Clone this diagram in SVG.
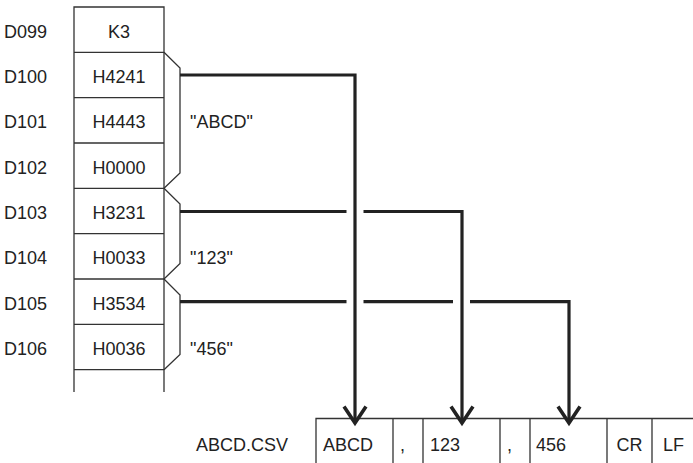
<svg xmlns="http://www.w3.org/2000/svg" width="693" height="463" viewBox="0 0 693 463">
<style>
text{font-family:"Liberation Sans",Arial,sans-serif;font-size:18px;fill:#222}
.thin{stroke:#333;stroke-width:1.3;fill:none}
.thick{stroke:#222;stroke-width:3.2;fill:none}
.mid{text-anchor:middle}
</style>
<defs>
<marker id="v" markerUnits="userSpaceOnUse" markerWidth="28" markerHeight="22" refX="13" refY="18" orient="0" viewBox="0 0 26 22">
<path d="M2 1.5 L13 18 L24 1.5" fill="none" stroke="#222" stroke-width="3.6"/>
</marker>
</defs>
<rect width="693" height="463" fill="#fff"/>
<g id="register-table">
<path class="thin" d="M74 392V7H164V392M74 52.3H164M74 97.7H164M74 143H164M74 188.3H164M74 233.7H164M74 279H164M74 324.3H164M74 369.7H164"/>
</g>
<g id="D099"><text x="4" y="37.5">D099</text><text class="mid" x="119" y="37.5">K3</text></g>
<g id="D100"><text x="4" y="82.8">D100</text><text class="mid" x="119" y="82.8">H4241</text></g>
<g id="D101"><text x="4" y="128.2">D101</text><text class="mid" x="119" y="128.2">H4443</text></g>
<g id="D102"><text x="4" y="173.5">D102</text><text class="mid" x="119" y="173.5">H0000</text></g>
<g id="D103"><text x="4" y="218.8">D103</text><text class="mid" x="119" y="218.8">H3231</text></g>
<g id="D104"><text x="4" y="264.2">D104</text><text class="mid" x="119" y="264.2">H0033</text></g>
<g id="D105"><text x="4" y="309.5">D105</text><text class="mid" x="119" y="309.5">H3534</text></g>
<g id="D106"><text x="4" y="354.8">D106</text><text class="mid" x="119" y="354.8">H0036</text></g>
<g id="bracket-ABCD"><path class="thin" d="M164 52.3L180 68V173L164 188.3"/><text x="190" y="128.2">"ABCD"</text></g>
<g id="bracket-123"><path class="thin" d="M164 188.3L180 204V263.5L164 279"/><text x="190" y="264.2">"123"</text></g>
<g id="bracket-456"><path class="thin" d="M164 279L180 295V354.5L164 369.7"/><text x="190" y="354.8">"456"</text></g>
<g id="csv-file">
<text x="196" y="451">ABCD.CSV</text>
<path class="thin" d="M316 463V418.5H693M393 418.5V463M423 418.5V463M500 418.5V463M530 418.5V463M607 418.5V463M652 418.5V463"/>
<text x="323" y="451">ABCD</text>
<text x="400" y="451">,</text>
<text x="430" y="451">123</text>
<text x="507" y="451">,</text>
<text x="536" y="451">456</text>
<text class="mid" x="629.5" y="451">CR</text>
<text x="663" y="451">LF</text>
</g>
<g id="connectors">
<path class="thick" d="M180 75H355V423" marker-end="url(#v)"/>
<path class="thick" d="M180 211.5H346.5M363.5 211.5H462V423" marker-end="url(#v)"/>
<path class="thick" d="M180 301.7H346.5M363.5 301.7H453M470 301.7H569V423" marker-end="url(#v)"/>
</g>
</svg>
